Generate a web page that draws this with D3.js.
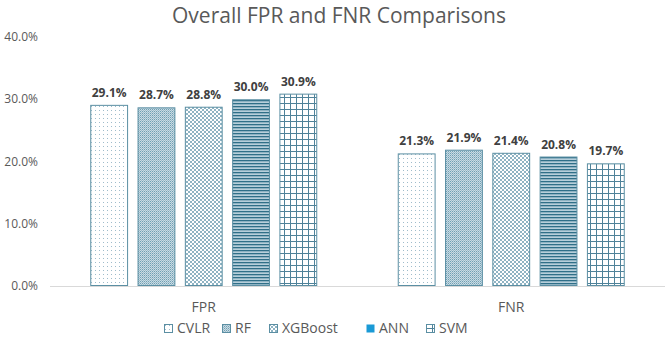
<!DOCTYPE html>
<html>
<head>
<meta charset="utf-8">
<script src="https://cdn.jsdelivr.net/npm/d3@7"></script>
<style>
  body { margin: 0; background: #fff; }
  svg { font-family: "Open Sans", "Liberation Sans", sans-serif; }
</style>
</head>
<body>
<svg id="chart"></svg>
<script>
// chart data
const categories = ['FPR', 'FNR'];
const models = ['CVLR', 'RF', 'XGBoost', 'ANN', 'SVM'];
const fprValues = [29.1, 28.7, 28.8, 30.0, 30.9];
const fnrValues = [21.3, 21.9, 21.4, 20.8, 19.7];
const yTicks = [0, 10, 20, 30, 40];

const width = 669, height = 339;
const margin = {top: 37, right: 4, bottom: 53, left: 50};
const innerW = width - margin.left - margin.right;
const innerH = height - margin.top - margin.bottom;

const svg = d3.select('#chart').attr('width', width).attr('height', height);

const rows = [];
categories.forEach((c, ci) => {
    const vals = ci === 0 ? fprValues : fnrValues;
    models.forEach((m, mi) => rows.push({cat: c, model: m, value: vals[mi]}));
});

// patterns
const defs = svg.append('defs');
const ink = '#2f6f88';
function pattern(id, size) {
    const p = defs.append('pattern').attr('id', id)
        .attr('patternUnits', 'userSpaceOnUse')
        .attr('width', size).attr('height', size);
    p.append('rect').attr('width', size).attr('height', size).attr('fill', '#fff');
    return p;
}
let p = pattern('pat-CVLR', 4);
p.append('rect').attr('x', 1).attr('y', 1).attr('width', 1).attr('height', 1).attr('fill', '#9fbccb');
p = pattern('pat-RF', 2);
p.select('rect').attr('fill', '#c9dbe3');
p.append('rect').attr('x', 0).attr('y', 0).attr('width', 1).attr('height', 1).attr('fill', '#6f9fb3');
p.append('rect').attr('x', 1).attr('y', 1).attr('width', 1).attr('height', 1).attr('fill', '#9dbccb');
p = pattern('pat-XGBoost', 4);
p.append('rect').attr('x', 0).attr('y', 0).attr('width', 2).attr('height', 2).attr('fill', '#8fb3c3');
p.append('rect').attr('x', 2).attr('y', 2).attr('width', 2).attr('height', 2).attr('fill', '#8fb3c3');
p = pattern('pat-ANN', 3);
p.select('rect').attr('fill', '#b7cfdb');
p.append('rect').attr('x', 0).attr('y', 0).attr('width', 3).attr('height', 1.3).attr('fill', ink);
p = pattern('pat-SVM', 6);
p.append('path').attr('d', 'M0,0.5 H6 M0.5,0 V6').attr('stroke', '#4f8299').attr('stroke-width', 1);

const x0 = d3.scaleBand().domain(categories).range([0, innerW]);
const x1 = d3.scaleBand().domain(models).range([0, 227]).paddingInner(0.2);
const y = d3.scaleLinear().domain([0, 40]).range([innerH, 0]);

const g = svg.append('g').attr('transform', `translate(${margin.left},${margin.top})`);

// y axis labels
g.selectAll('.ytick').data(yTicks).join('text')
    .attr('class', 'ytick')
    .attr('x', -12).attr('y', d => y(d)).attr('dy', '0.35em')
    .attr('text-anchor', 'end')
    .attr('fill', '#595959').style('font-size', '12px')
    .text(d => d.toFixed(1) + '%');

// baseline
g.append('line').attr('x1', 0).attr('x2', innerW).attr('y1', innerH + 0.5).attr('y2', innerH + 0.5)
    .attr('stroke', '#d9d9d9').attr('stroke-width', 1);

const groupOffset = (x0.bandwidth() - 227) / 2;

g.selectAll('.bar').data(rows).join('rect')
    .attr('class', 'bar')
    .attr('x', d => x0(d.cat) + groupOffset + x1(d.model) + 0.5)
    .attr('y', d => y(d.value) + 0.5)
    .attr('width', x1.bandwidth() - 1)
    .attr('height', d => innerH - y(d.value) - 1)
    .attr('fill', d => `url(#pat-${d.model})`)
    .attr('stroke', '#5b8fa3').attr('stroke-width', 1);

g.selectAll('.val').data(rows).join('text')
    .attr('class', 'val')
    .attr('x', d => x0(d.cat) + groupOffset + x1(d.model) + x1.bandwidth() / 2)
    .attr('y', d => y(d.value) - 8)
    .attr('text-anchor', 'middle')
    .attr('fill', '#404040').style('font-size', '12px').style('font-weight', 'bold')
    .text(d => d.value.toFixed(1) + '%');

// category labels
g.selectAll('.cat').data(categories).join('text')
    .attr('class', 'cat')
    .attr('x', d => x0(d) + x0.bandwidth() / 2)
    .attr('y', innerH + 21).attr('dy', '0.35em')
    .attr('text-anchor', 'middle')
    .attr('fill', '#595959').style('font-size', '14px')
    .text(d => d);

// title
svg.append('text').attr('x', 339).attr('y', 23).attr('text-anchor', 'middle')
    .attr('fill', '#595959').style('font-size', '21px')
    .text('Overall FPR and FNR Comparisons');

// legend
const legendX = [164, 222, 269, 366, 426];
const lg = svg.append('g').attr('transform', 'translate(0,328)');
models.forEach((m, i) => {
    const item = lg.append('g').attr('transform', `translate(${legendX[i]},0)`);
    item.append('rect').attr('x', 0.5).attr('y', -3.5).attr('width', 8).attr('height', 8)
        .attr('fill', m === 'ANN' ? '#1a9ad6' : `url(#pat-${m})`)
        .attr('stroke', m === 'ANN' ? 'none' : '#5b8fa3');
    item.append('text').attr('x', 13).attr('y', 0.5).attr('dy', '0.35em')
        .attr('fill', '#595959').style('font-size', '14px')
        .text(m);
});
</script>
</body>
</html>
